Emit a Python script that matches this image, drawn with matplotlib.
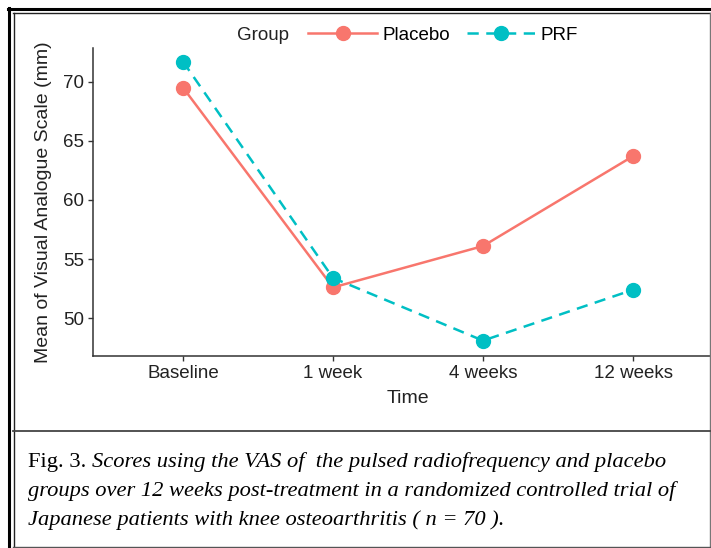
import matplotlib
matplotlib.use("Agg")
import matplotlib.pyplot as plt
from matplotlib.lines import Line2D

# Data
times = ["Baseline", "1 week", "4 weeks", "12 weeks"]
placebo = [69.5, 52.6, 56.1, 63.7]
prf = [71.7, 53.4, 48.1, 52.4]
y_ticks = [50, 55, 60, 65, 70]

caption_head = "Fig. 3. "
caption_lines = [
    "Scores using the VAS of  the pulsed radiofrequency and placebo",
    "groups over 12 weeks post-treatment in a randomized controlled trial of",
    "Japanese patients with knee osteoarthritis ( n = 70 ).",
]

W, H = 711, 548
font = "Liberation Sans"
red = "#F8766D"
teal = "#00BFC4"
spine_col = "#333333"

fig = plt.figure(figsize=(W / 100, H / 100), dpi=100)


def fx(px):
    return px / W


def fy(py):
    return 1 - py / H


# Axes box in pixel terms (x range runs past the right edge, as in the source)
left, right, top, bottom = 93, 723, 48, 356
ax = fig.add_axes([fx(left), fy(bottom), fx(right - left), (bottom - top) / H])

x = list(range(1, len(times) + 1))
ax.plot(x, placebo, color=red, lw=1.8, marker="o", ms=10, label="Placebo")
ax.plot(x, prf, color=teal, lw=1.8, marker="o", ms=10, dashes=(4.5, 3), label="PRF")

ax.set_xlim(0.4, 4.6)
ax.set_ylim(46.8, 72.85)
ax.set_xticks(x)
ax.set_xticklabels(times, fontsize=13.5, fontname=font, color="#222222")
ax.set_yticks(y_ticks)
ax.set_yticklabels([str(t) for t in y_ticks], fontsize=13.5, fontname=font, color="#222222")
ax.tick_params(length=3.5, width=1.0, color=spine_col, pad=3)

for s in ["top", "right"]:
    ax.spines[s].set_visible(False)
for s in ["left", "bottom"]:
    ax.spines[s].set_color(spine_col)
    ax.spines[s].set_linewidth(1.1)

ax.set_xlabel("Time", fontsize=14, fontname=font, color="#222222", labelpad=6)
ax.set_ylabel("Mean of Visual Analogue Scale (mm)", fontsize=14, fontname=font,
              color="#222222", labelpad=8)

# Legend across the top, ggplot style
fig.text(fx(237), fy(35), "Group", fontsize=13.5, fontname=font, color="#222222",
         ha="left", va="center")
leg = fig.legend(loc="center left", bbox_to_anchor=(fx(308), fy(35)), ncol=2,
                 frameon=False, handlelength=3.7, handletextpad=0.25,
                 columnspacing=0.9, prop={"family": font, "size": 13.5},
                 borderaxespad=0, borderpad=0)

# Caption
rend = fig.canvas.get_renderer()
cap_x = fx(28)
cap_y = [462, 491, 520]
cap_size = 16.2
head = fig.text(cap_x, fy(cap_y[0]), caption_head, fontsize=cap_size,
                family="Liberation Serif", va="center", ha="left")
hw = head.get_window_extent(rend).width
fig.text(cap_x + hw / W, fy(cap_y[0]), caption_lines[0], fontsize=cap_size,
         family="Liberation Serif", style="italic", va="center", ha="left")
for line, yy in zip(caption_lines[1:], cap_y[1:]):
    fig.text(cap_x, fy(yy), line, fontsize=cap_size, family="Liberation Serif",
             style="italic", va="center", ha="left")

# Frame lines around chart and caption
def hline(y, x0, x1, lw, col):
    fig.add_artist(Line2D([fx(x0), fx(x1)], [fy(y), fy(y)], lw=lw, color=col))


def vline(xp, y0, y1, lw, col):
    fig.add_artist(Line2D([fx(xp), fx(xp)], [fy(y0), fy(y1)], lw=lw, color=col))


hline(9, 8, W, 2.2, "black")
hline(12.8, 13, W, 1.0, "#222222")
vline(9, 8, 548, 2.2, "black")
vline(13.5, 12.5, 546, 1.0, "#222222")
vline(709.5, 12.5, 546, 1.0, "#777777")
hline(546.5, 13, 710, 1.0, "#555555")
hline(430.5, 13, 710, 1.3, "#444444")

fig.savefig("out.png", dpi=100)
